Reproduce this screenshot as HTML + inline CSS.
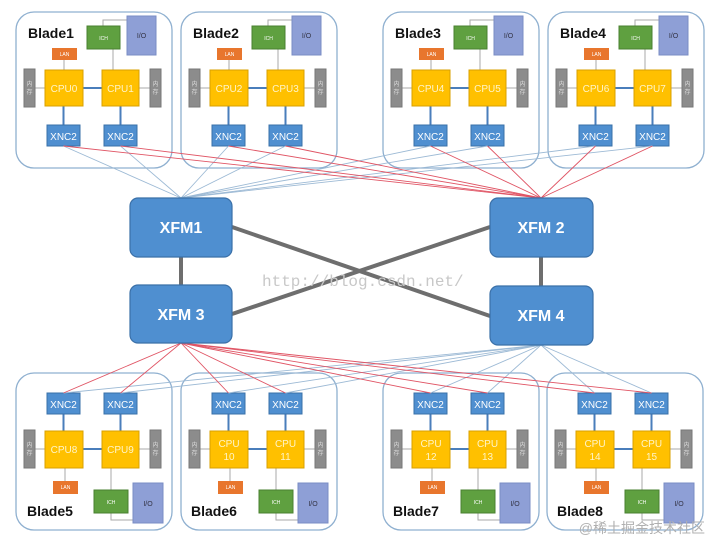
<!DOCTYPE html>
<html><head><meta charset="utf-8"><style>
html,body{margin:0;padding:0;background:#fff;width:713px;height:540px;overflow:hidden}
svg{display:block}
.box{fill:#fff;stroke:#8fb0d0;stroke-width:1.3}
.t{font-family:"Liberation Sans",sans-serif;font-weight:bold;font-size:14px;fill:#111}
.cpu{fill:#ffc000;stroke:#d8a000}
.ct{font-family:"Liberation Sans",sans-serif;font-size:10px;fill:#fff4c8;text-anchor:middle}
.xnc{fill:#4f8fd0;stroke:#3a70a8}
.xt{font-family:"Liberation Sans",sans-serif;font-size:10px;fill:#fff;text-anchor:middle}
.mem{fill:#8c8c8c;stroke:#777}
.mt{font-family:"Noto Sans CJK SC",sans-serif;font-size:6px;fill:#ddd;text-anchor:middle}
.ich{fill:#5fa040;stroke:#4a8030}
.io{fill:#8e9fd6;stroke:#7a8cc4}
.lan{fill:#e8762d}
.st{font-family:"Liberation Sans",sans-serif;font-size:5px;fill:#fff;text-anchor:middle}
.iot{font-family:"Liberation Sans",sans-serif;font-size:7px;fill:#334;text-anchor:middle}
.gl{stroke:#aaa;stroke-width:1;fill:none}
.bl{stroke:#4a7ebb;stroke-width:2}
.xfm{fill:#4f8fd0;stroke:#3a70a8;stroke-width:1.2}
.xf{font-family:"Liberation Sans",sans-serif;font-weight:bold;font-size:16px;fill:#fff;text-anchor:middle}
.r{stroke:#e05565;stroke-width:0.9}
.b{stroke:#9dbad5;stroke-width:0.9}
</style></head><body>
<svg width="713" height="540" viewBox="0 0 713 540" xmlns="http://www.w3.org/2000/svg">
<defs>
<g id="top">
<rect class="box" x="0" y="0" width="156" height="156" rx="18"/>
<polyline class="gl" points="87,14 87,8 111,8"/>
<line class="gl" x1="97" y1="37" x2="97" y2="58"/>
<line class="gl" x1="48" y1="48" x2="48" y2="58"/>
<line class="gl" x1="19" y1="76" x2="29" y2="76"/>
<line class="gl" x1="123" y1="76" x2="134" y2="76"/>
<line class="bl" x1="67" y1="76" x2="86" y2="76"/>
<line class="bl" x1="47.5" y1="94" x2="47.5" y2="113"/>
<line class="bl" x1="104.5" y1="94" x2="104.5" y2="113"/>
<rect class="ich" x="71" y="14" width="33" height="23"/><text class="st" x="87.5" y="28">ICH</text>
<rect class="io" x="111" y="4" width="29" height="39"/><text class="iot" x="125.5" y="26">I/O</text>
<rect class="lan" x="36" y="36" width="25" height="12"/><text class="st" x="48.5" y="44">LAN</text>
<rect class="mem" x="8" y="57" width="11" height="38"/><text class="mt" x="13.5" y="74">内</text><text class="mt" x="13.5" y="82">存</text>
<rect class="mem" x="134" y="57" width="11" height="38"/><text class="mt" x="139.5" y="74">内</text><text class="mt" x="139.5" y="82">存</text>
<rect class="xnc" x="31" y="113" width="33" height="21"/><text class="xt" x="47.5" y="128">XNC2</text>
<rect class="xnc" x="88" y="113" width="33" height="21"/><text class="xt" x="104.5" y="128">XNC2</text>
</g>
<g id="bot">
<rect class="box" x="0" y="0" width="156" height="157" rx="18"/>
<line class="bl" x1="47.5" y1="41" x2="47.5" y2="58"/>
<line class="bl" x1="104.5" y1="41" x2="104.5" y2="58"/>
<line class="bl" x1="67" y1="76" x2="86" y2="76"/>
<line class="gl" x1="19" y1="76" x2="29" y2="76"/>
<line class="gl" x1="123" y1="76" x2="134" y2="76"/>
<line class="gl" x1="49" y1="95" x2="49" y2="108"/>
<line class="gl" x1="95" y1="95" x2="95" y2="117"/>
<polyline class="gl" points="95,140 95,147 117,147"/>
<rect class="xnc" x="31" y="20" width="33" height="21"/><text class="xt" x="47.5" y="35">XNC2</text>
<rect class="xnc" x="88" y="20" width="33" height="21"/><text class="xt" x="104.5" y="35">XNC2</text>
<rect class="mem" x="8" y="57" width="11" height="38"/><text class="mt" x="13.5" y="74">内</text><text class="mt" x="13.5" y="82">存</text>
<rect class="mem" x="134" y="57" width="11" height="38"/><text class="mt" x="139.5" y="74">内</text><text class="mt" x="139.5" y="82">存</text>
<rect class="lan" x="37" y="108" width="25" height="13"/><text class="st" x="49.5" y="116">LAN</text>
<rect class="ich" x="78" y="117" width="34" height="23"/><text class="st" x="95" y="131">ICH</text>
<rect class="io" x="117" y="110" width="30" height="40"/><text class="iot" x="132" y="133">I/O</text>
</g>
</defs>

<!-- top blades -->
<g transform="translate(16,12)"><use href="#top"/><text class="t" x="12" y="26">Blade1</text>
<rect class="cpu" x="29" y="58" width="38" height="36"/><text class="ct" x="48" y="80">CPU0</text>
<rect class="cpu" x="86" y="58" width="37" height="36"/><text class="ct" x="104.5" y="80">CPU1</text></g>
<g transform="translate(181,12)"><use href="#top"/><text class="t" x="12" y="26">Blade2</text>
<rect class="cpu" x="29" y="58" width="38" height="36"/><text class="ct" x="48" y="80">CPU2</text>
<rect class="cpu" x="86" y="58" width="37" height="36"/><text class="ct" x="104.5" y="80">CPU3</text></g>
<g transform="translate(383,12)"><use href="#top"/><text class="t" x="12" y="26">Blade3</text>
<rect class="cpu" x="29" y="58" width="38" height="36"/><text class="ct" x="48" y="80">CPU4</text>
<rect class="cpu" x="86" y="58" width="37" height="36"/><text class="ct" x="104.5" y="80">CPU5</text></g>
<g transform="translate(548,12)"><use href="#top"/><text class="t" x="12" y="26">Blade4</text>
<rect class="cpu" x="29" y="58" width="38" height="36"/><text class="ct" x="48" y="80">CPU6</text>
<rect class="cpu" x="86" y="58" width="37" height="36"/><text class="ct" x="104.5" y="80">CPU7</text></g>

<!-- bottom blades -->
<g transform="translate(16,373)"><use href="#bot"/><text class="t" x="11" y="143">Blade5</text>
<rect class="cpu" x="29" y="58" width="38" height="37"/><text class="ct" x="48" y="80">CPU8</text>
<rect class="cpu" x="86" y="58" width="37" height="37"/><text class="ct" x="104.5" y="80">CPU9</text></g>
<g transform="translate(181,373)"><use href="#bot"/><text class="t" x="10" y="143">Blade6</text>
<rect class="cpu" x="29" y="58" width="38" height="37"/><text class="ct" x="48" y="74">CPU</text><text class="ct" x="48" y="87">10</text>
<rect class="cpu" x="86" y="58" width="37" height="37"/><text class="ct" x="104.5" y="74">CPU</text><text class="ct" x="104.5" y="87">11</text></g>
<g transform="translate(383,373)"><use href="#bot"/><text class="t" x="10" y="143">Blade7</text>
<rect class="cpu" x="29" y="58" width="38" height="37"/><text class="ct" x="48" y="74">CPU</text><text class="ct" x="48" y="87">12</text>
<rect class="cpu" x="86" y="58" width="37" height="37"/><text class="ct" x="104.5" y="74">CPU</text><text class="ct" x="104.5" y="87">13</text></g>
<g transform="translate(547,373)"><use href="#bot"/><text class="t" x="10" y="143">Blade8</text>
<rect class="cpu" x="29" y="58" width="38" height="37"/><text class="ct" x="48" y="74">CPU</text><text class="ct" x="48" y="87">14</text>
<rect class="cpu" x="86" y="58" width="37" height="37"/><text class="ct" x="104.5" y="74">CPU</text><text class="ct" x="104.5" y="87">15</text></g>

<!-- connectors top -->
<g>
<line class="b" x1="63.5" y1="146" x2="181" y2="198"/><line class="b" x1="120.5" y1="146" x2="181" y2="198"/>
<line class="b" x1="228.5" y1="146" x2="181" y2="198"/><line class="b" x1="285.5" y1="146" x2="181" y2="198"/>
<line class="b" x1="430.5" y1="146" x2="181" y2="198"/><line class="b" x1="487.5" y1="146" x2="181" y2="198"/>
<line class="b" x1="595.5" y1="146" x2="181" y2="198"/><line class="b" x1="652.5" y1="146" x2="181" y2="198"/>
<line class="r" x1="63.5" y1="146" x2="541" y2="198"/><line class="r" x1="120.5" y1="146" x2="541" y2="198"/>
<line class="r" x1="228.5" y1="146" x2="541" y2="198"/><line class="r" x1="285.5" y1="146" x2="541" y2="198"/>
<line class="r" x1="430.5" y1="146" x2="541" y2="198"/><line class="r" x1="487.5" y1="146" x2="541" y2="198"/>
<line class="r" x1="595.5" y1="146" x2="541" y2="198"/><line class="r" x1="652.5" y1="146" x2="541" y2="198"/>
</g>
<!-- connectors bottom -->
<g>
<line class="b" x1="63.5" y1="393" x2="541" y2="345"/><line class="b" x1="120.5" y1="393" x2="541" y2="345"/>
<line class="b" x1="228.5" y1="393" x2="541" y2="345"/><line class="b" x1="285.5" y1="393" x2="541" y2="345"/>
<line class="b" x1="430.5" y1="393" x2="541" y2="345"/><line class="b" x1="487.5" y1="393" x2="541" y2="345"/>
<line class="b" x1="594.5" y1="393" x2="541" y2="345"/><line class="b" x1="651.5" y1="393" x2="541" y2="345"/>
<line class="r" x1="63.5" y1="393" x2="181" y2="343"/><line class="r" x1="120.5" y1="393" x2="181" y2="343"/>
<line class="r" x1="228.5" y1="393" x2="181" y2="343"/><line class="r" x1="285.5" y1="393" x2="181" y2="343"/>
<line class="r" x1="430.5" y1="393" x2="181" y2="343"/><line class="r" x1="487.5" y1="393" x2="181" y2="343"/>
<line class="r" x1="594.5" y1="393" x2="181" y2="343"/><line class="r" x1="651.5" y1="393" x2="181" y2="343"/>
</g>

<!-- XFM interconnect -->
<g stroke="#6e6e6e" stroke-width="4">
<line x1="181" y1="257" x2="181" y2="285"/>
<line x1="541" y1="257" x2="541" y2="286"/>
<line x1="232" y1="227" x2="490" y2="316"/>
<line x1="232" y1="314" x2="490" y2="227"/>
</g>
<rect class="xfm" x="130" y="198" width="102" height="59" rx="8"/><text class="xf" x="181" y="233">XFM1</text>
<rect class="xfm" x="490" y="198" width="103" height="59" rx="8"/><text class="xf" x="541" y="233">XFM 2</text>
<rect class="xfm" x="130" y="285" width="102" height="58" rx="8"/><text class="xf" x="181" y="320">XFM 3</text>
<rect class="xfm" x="490" y="286" width="103" height="59" rx="8"/><text class="xf" x="541" y="321">XFM 4</text>

<text x="262" y="286" font-family="Liberation Mono,monospace" font-size="16" fill="#c8c8c8">http://blog.csdn.net/</text>
<text x="705" y="533" text-anchor="end" font-family="Liberation Sans,Noto Sans CJK SC,sans-serif" font-size="14" fill="#b0b0b0">@稀土掘金技术社区</text>
</svg>
</body></html>
